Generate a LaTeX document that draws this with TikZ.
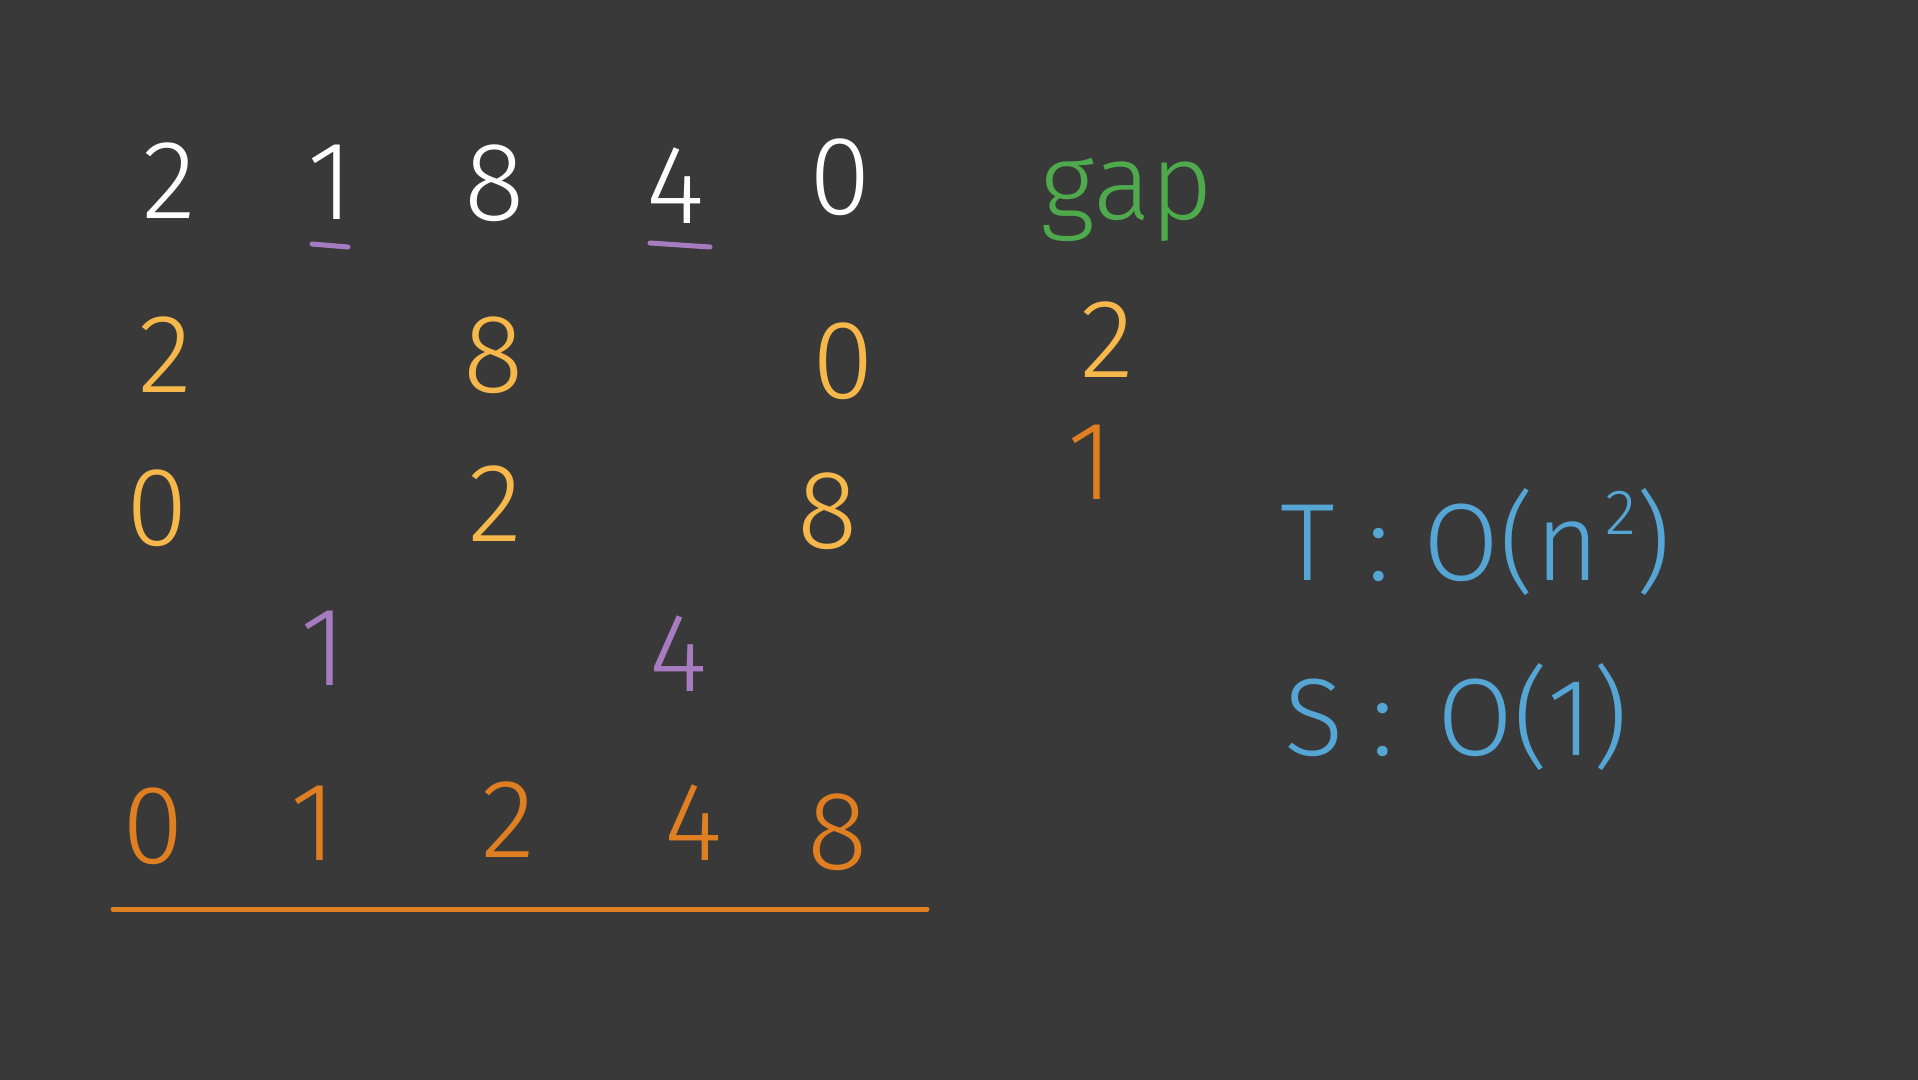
\documentclass[tikz,border=0pt]{standalone}
\usepackage{fontspec}
\setmainfont{Fira Sans}[UprightFont=* Light]
\definecolor{bg}{HTML}{393939}
\definecolor{cwhite}{HTML}{FFFFFF}
\definecolor{cpurple}{HTML}{A67BBF}
\definecolor{cgreen}{HTML}{4EAA4C}
\definecolor{cyellow}{HTML}{F6B84A}
\definecolor{corange}{HTML}{E07E22}
\definecolor{cblue}{HTML}{55A5D5}
\tikzset{
  digit/.style={inner sep=0pt, font=\fontsize{56}{60}\selectfont},
  wdig/.style={digit, text=cwhite},
  ydig/.style={digit, text=cyellow},
  odig/.style={digit, text=corange},
  pdig/.style={digit, text=cpurple},
  bluetxt/.style={inner sep=0pt, text=cblue, font=\fontsize{55}{60}\selectfont},
  mark line/.style={draw=cpurple, line width=2.5pt, line cap=round},
}
\begin{document}
\begin{tikzpicture}[x=0.5pt,y=-0.5pt]
\fill[bg] (0,0) rectangle (1918,1080);
\useasboundingbox (0,0) rectangle (1918,1080);
% row 1
\node[wdig] (a1) at (169,181) {2};
\node[wdig] (a2) at (331,182) {1};
\node[wdig] (a3) at (495,183) {8};
\node[wdig] (a4) at (676,186) {4};
\node[wdig] (a5) at (840,177) {0};
\coordinate (u1s) at (312,244); \coordinate (u1e) at (348,247);
\coordinate (u2s) at (650,243); \coordinate (u2e) at (710,247);
\draw[mark line] (u1s) -- (u1e);
\draw[mark line] (u2s) -- (u2e);
\node[inner sep=0pt, text=cgreen, font=\fontsize{54}{60}\selectfont, anchor=base] (gap) at (1127,220) {gap};
% row 2
\node[ydig] (b1) at (165,355) {2};
\node[ydig] (b3) at (494,355) {8};
\node[ydig] (b5) at (843,361) {0};
\node[ydig] (g1) at (1107,340) {2};
\node[odig] (g2) at (1091,462) {1};
% row 3
\node[ydig] (c1) at (157,508) {0};
\node[ydig] (c3) at (495,504) {2};
\node[ydig] (c5) at (828,511) {8};
% row 4
\node[pdig] (d2) at (324,648) {1};
\node[pdig] (d4) at (679,654) {4};
% row 5
\node[odig] (e1) at (153,826) {0};
\node[odig] (e2) at (314,823) {1};
\node[odig] (e3) at (508,820) {2};
\node[odig] (e4) at (694,823) {4};
\node[odig] (e5) at (838,832) {8};
\coordinate (ls) at (113,909); \coordinate (le) at (927,909);
\draw[corange, line width=2.5pt, line cap=round] (ls) -- (le);
% complexity
\node[bluetxt, anchor=base west] (tc) at (1280,581) {T\hspace{0.3em}:\hspace{0.3em}O(n\hspace{0.05em}\raisebox{0.42em}{\fontsize{32}{36}\selectfont 2})};
\node[bluetxt, anchor=base west] (sc) at (1284,755) {S\hspace{0.25em}:\hspace{0.4em}O(1)};
\end{tikzpicture}
\end{document}
